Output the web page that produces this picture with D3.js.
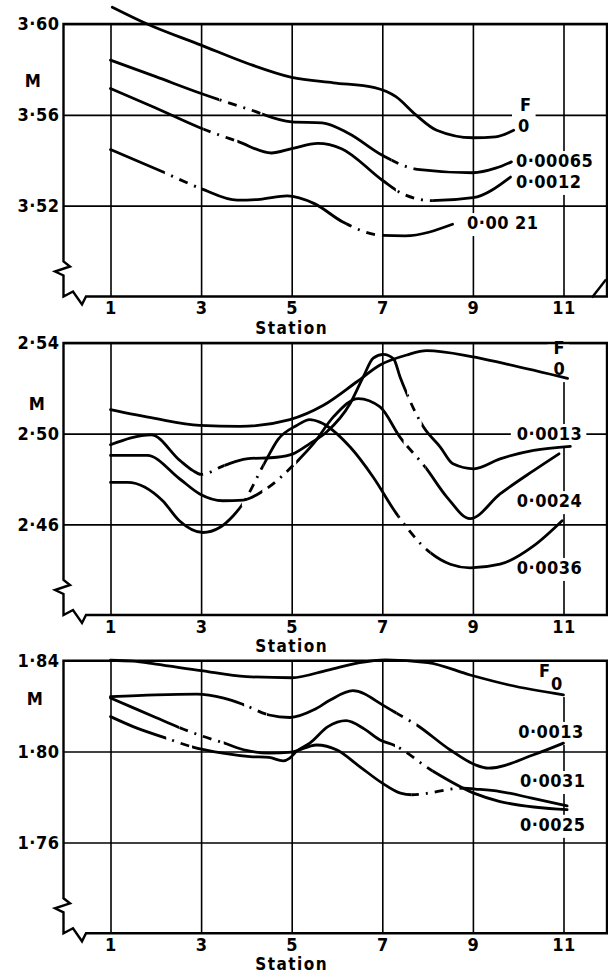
<!DOCTYPE html>
<html>
<head>
<meta charset="utf-8">
<style>
    body { margin: 0; background: #fff; }
    svg { display: block; }
    text {
        font-family: 'DejaVu Sans Condensed', 'DejaVu Sans', sans-serif;
        font-weight: bold;
        fill: #000;
    }
    .grid .domain { display: none; }
    .grid .tick line { stroke: #000; stroke-width: 1.6; }
    .grid .tick text { font-size: 18px; letter-spacing: 0.5px; }
    .frame { fill: none; stroke: #000; stroke-width: 2.4; stroke-linejoin: miter; }
    .curve { fill: none; stroke: #000; stroke-width: 2.8; stroke-linecap: round; }
    .dashed { stroke-dasharray: 9 7 2 7; stroke-linecap: butt; }
    .label { font-size: 18px; letter-spacing: 0.5px; }
    .axis-title { font-size: 17px; letter-spacing: 1.5px; }
</style>
</head>
<body>
<svg width="608" height="978"></svg>
<script src="https://cdn.jsdelivr.net/npm/d3@7"></script>
<script>
    // stations along the x axis
    let stationTicks = [1, 3, 5, 7, 9, 11];

    // ---- panel 1 ----
    let ticks1 = [3.52, 3.56, 3.60];
    let p1F0 = [[1.04, 3.6074], [1.81, 3.6000], [3, 3.5907], [4.03, 3.5826], [5, 3.5765], [5.92, 3.5741],
        [6.83, 3.5720], [7.3, 3.5680], [7.74, 3.5600], [8.2, 3.5532], [9, 3.5499], [9.5, 3.5503], [9.9, 3.5532]];
    let p1F00065 = [[1, 3.5841], [2, 3.5768], [3, 3.5694], [4, 3.5628], [5, 3.5569], [5.67, 3.5565], [6.26, 3.5518],
        [7, 3.5422], [7.77, 3.5360], [9, 3.5345], [9.5, 3.5365], [9.85, 3.5393]];
    let p1F0012 = [[1, 3.5716], [2, 3.5630], [3, 3.5541], [3.82, 3.5482], [4.55, 3.5432], [5, 3.5451], [5.58, 3.5474],
        [6.1, 3.5451], [7, 3.5312], [7.44, 3.5253], [8.1, 3.5222], [9, 3.5235], [9.83, 3.5326]];
    let p1F0021 = [[1, 3.5447], [2.15, 3.5349], [3, 3.5275], [3.8, 3.5224], [4.3, 3.5228], [4.9, 3.5243], [5.5, 3.5209],
        [6.13, 3.5128], [7, 3.5069], [7.5, 3.5067], [8.55, 3.5118]];
    let p1Dash = { F0: [], F00065: [[3.4, 4.35], [7.2, 7.7]], F0012: [[3.05, 3.8], [7.3, 8.1]], F0021: [[2.2, 3.0], [6.2, 7.0]] };

    // ---- panel 2 ----
    let ticks2 = [2.46, 2.50, 2.54];
    let p2F0 = [[1, 2.5106], [1.98, 2.5067], [2.97, 2.5037], [3.86, 2.5032], [4.96, 2.5062], [5.7, 2.5125], [6.44, 2.5229],
        [6.95, 2.5303], [7.54, 2.5347], [7.98, 2.5366], [8.97, 2.5340], [9.68, 2.5310], [11.09, 2.5244]];
    let p2F0013 = [[1, 2.4951], [1.9, 2.4995], [2.53, 2.4882], [2.82, 2.4837], [3.0, 2.4820], [3.52, 2.4860], [4.0, 2.4889],
        [4.67, 2.4896], [5.03, 2.4911], [5.4, 2.4956], [5.77, 2.5007], [6.29, 2.5133], [6.58, 2.5251], [6.8, 2.5333],
        [7.02, 2.5350], [7.25, 2.5330], [7.39, 2.5251], [7.54, 2.5177], [7.91, 2.5029], [8.28, 2.4941], [8.56, 2.4867],
        [9.02, 2.4845], [9.6, 2.4889], [10.34, 2.4926], [11.15, 2.4944]];
    let p2F0024 = [[1, 2.4904], [1.81, 2.4904], [2.53, 2.4800], [2.97, 2.4734], [3.48, 2.4704], [3.93, 2.4707], [4.38, 2.4749],
        [5.14, 2.4882], [5.48, 2.4956], [5.92, 2.5074], [6.47, 2.5155], [6.95, 2.5118], [7.39, 2.4985], [7.95, 2.4852],
        [8.43, 2.4719], [8.94, 2.4625], [9.6, 2.4734], [10.34, 2.4837], [10.9, 2.4911]];
    let p2F0036 = [[1, 2.4785], [1.38, 2.4785], [2.15, 2.4704], [2.52, 2.4616], [3.04, 2.4564], [3.41, 2.4586], [3.71, 2.4638],
        [3.89, 2.4682], [4.4, 2.4870], [4.7, 2.4975], [5.1, 2.5035], [5.4, 2.5062], [5.62, 2.5051], [6.29, 2.4941],
        [6.8, 2.4808], [7.32, 2.4645], [8.06, 2.4475], [8.5, 2.4424], [8.94, 2.4408], [9.6, 2.4424], [10.34, 2.4505], [10.97, 2.4616]];
    let p2Dash = { F0: [], F0013: [[3.0, 3.52], [7.55, 7.87]], F0024: [[4.35, 5.1], [7.47, 7.95]], F0036: [[3.9, 4.37], [7.35, 8.06]] };

    // ---- panel 3 ----
    let ticks3 = [1.76, 1.80, 1.84];
    let p3F0 = [[1, 1.8402], [1.5, 1.8398], [2, 1.8385], [3, 1.8356], [4, 1.8330], [5, 1.8325], [5.8, 1.8359], [6.5, 1.8392],
        [7.07, 1.8403], [8, 1.8392], [8.94, 1.8337], [9.8, 1.8293], [11, 1.8250]];
    let p3F0013 = [[1, 1.8242], [2, 1.8250], [2.9, 1.8253], [3.5, 1.8235], [3.92, 1.8208], [4.5, 1.8161], [4.96, 1.8150],
        [5.5, 1.8185], [5.85, 1.8227], [6.35, 1.8268], [7.05, 1.8200], [7.35, 1.8165], [7.76, 1.8117], [8.5, 1.8007],
        [9.05, 1.7942], [9.34, 1.7927], [10.34, 1.7986], [11, 1.8037]];
    let p3F0031 = [[1, 1.8236], [2, 1.8150], [2.5, 1.8107], [3, 1.8070], [3.5, 1.8038], [4, 1.8005], [4.5, 1.7993], [5, 1.7998],
        [5.55, 1.8029], [6, 1.8007], [6.5, 1.7934], [7, 1.7861], [7.4, 1.7817], [7.65, 1.7810], [8.8, 1.7839], [9.05, 1.7835],
        [9.6, 1.7824], [10.3, 1.7795], [11.08, 1.7761]];
    let p3F0025 = [[1, 1.8154], [1.5, 1.8110], [2.23, 1.8059], [2.78, 1.8022], [3.48, 1.7993], [4.08, 1.7978], [4.5, 1.7974],
        [4.81, 1.7959], [4.95, 1.7970], [5.1, 1.8000], [5.4, 1.8037], [5.8, 1.8110], [6.2, 1.8136], [6.6, 1.8100],
        [6.95, 1.8051], [7.25, 1.8029], [8.13, 1.7912], [9.02, 1.7817], [9.6, 1.7780], [11.08, 1.7744]];
    let p3Dash = { F0: [], F0013: [[3.95, 4.45], [7.32, 7.76]], F0031: [[2.52, 3.5], [7.65, 8.8]], F0025: [[2.23, 2.8], [7.28, 8.1]] };

    let svg = d3.select("svg");
    let frameLeft = 63.5;
    let frameRight = 607;

    let x = d3.scaleLinear()
        .domain([1, 11])
        .range([110.5, 563.5]);

    let fmt = d => d3.format(".2f")(d).replace(".", "\u00b7");

    // label rows: text, station, M, second line, its dx, its dy
    let panels = [
        {
            top: 24, bottom: 296.5, domain: [3.48, 3.60], ticks: ticks1, mY: 63, mX: 33, slash: true,
            series: [["F0", p1F0], ["F00065", p1F00065], ["F0012", p1F0012], ["F0021", p1F0021]], dash: p1Dash,
            labels: [["F", 10.04, 3.5617, "0", -2, 21], ["0\u00b700065", 9.95, 3.5370],
                ["0\u00b70012", 9.95, 3.5278], ["0\u00b700 21", 8.87, 3.5097]]
        },
        {
            top: 343, bottom: 615, domain: [2.42, 2.54], ticks: ticks2, mY: 67, mX: 37,
            series: [["F0", p2F0], ["F0013", p2F0013], ["F0024", p2F0024], ["F0036", p2F0036]], dash: p2Dash,
            labels: [["F", 10.78, 2.5351, "0", 0, 21], ["0\u00b70013", 9.97, 2.4972],
                ["0\u00b70024", 9.97, 2.4676], ["0\u00b70036", 9.97, 2.4381]]
        },
        {
            top: 660.7, bottom: 933.3, domain: [1.72, 1.84], ticks: ticks3, mY: 44, mX: 35,
            series: [["F0", p3F0], ["F0013", p3F0013], ["F0031", p3F0031], ["F0025", p3F0025]], dash: p3Dash,
            labels: [["F", 10.46, 1.8328, "0", 12, 13], ["0\u00b70013", 10.0, 1.8060],
                ["0\u00b70031", 10.04, 1.7844], ["0\u00b70025", 10.04, 1.7651]]
        }
    ];

    panels.forEach(function (p, pi) {
        let y = d3.scaleLinear()
            .domain(p.domain)
            .range([p.bottom, p.top]);

        let g = svg.append("g").attr("class", "panel");
        let defs = g.append("defs");

        // vertical grid + station numbers
        g.append("g")
            .attr("class", "grid")
            .attr("transform", "translate(0," + p.bottom + ")")
            .call(d3.axisBottom(x)
                .tickValues(stationTicks)
                .tickSize(-(p.bottom - p.top))
                .tickPadding(5)
                .tickFormat(d3.format("d")));

        // horizontal grid + M values
        g.append("g")
            .attr("class", "grid")
            .attr("transform", "translate(" + frameLeft + ",0)")
            .call(d3.axisLeft(y)
                .tickValues(p.ticks)
                .tickSize(-(frameRight - frameLeft))
                .tickPadding(4)
                .tickFormat(fmt));

        let knock = g.append("g");
        let curves = g.append("g");
        let labels = g.append("g");

        // frame with the break marks
        let b = p.bottom;
        let L = frameLeft;
        g.append("path")
            .attr("class", "frame")
            .attr("d", "M" + L + "," + p.top + "H" + frameRight + "V" + b
                + "H86L82," + (b + 8) + "L73," + (b - 5) + "L" + L + "," + b
                + "V" + (b - 21) + "L55," + (b - 25) + "L70," + (b - 30) + "L" + L + "," + (b - 35) + "Z");
        if (p.slash) {
            g.append("path")
                .attr("class", "frame")
                .attr("d", "M592," + (b + 1) + "L606," + (b - 17));
        }

        let line = d3.line()
            .x(d => x(d[0]))
            .y(d => y(d[1]))
            .curve(d3.curveMonotoneX);

        p.series.forEach(function (s) {
            let key = s[0], pts = s[1];
            let dashes = p.dash[key];
            let id = "p" + pi + key;

            // solid parts = everything not dashed
            let solid = [];
            let start = pts[0][0] - 1;
            dashes.forEach(r => { solid.push([start, r[0]]); start = r[1]; });
            solid.push([start, pts[pts.length - 1][0] + 1]);

            let addClip = function (cid, ranges) {
                defs.append("clipPath").attr("id", cid)
                    .selectAll("rect")
                    .data(ranges)
                    .join("rect")
                    .attr("x", r => x(r[0]))
                    .attr("width", r => x(r[1]) - x(r[0]))
                    .attr("y", p.top - 40)
                    .attr("height", p.bottom - p.top + 60);
            };
            addClip(id + "s", solid);
            curves.append("path")
                .datum(pts)
                .attr("class", "curve")
                .attr("clip-path", "url(#" + id + "s)")
                .attr("d", line);

            if (dashes.length) {
                addClip(id + "d", dashes);
                curves.append("path")
                    .datum(pts)
                    .attr("class", "curve dashed")
                    .attr("clip-path", "url(#" + id + "d)")
                    .attr("d", line);
            }
        });

        // curve labels with white knock-outs behind them
        p.labels.forEach(function (l) {
            let t = labels.append("text")
                .attr("class", "label")
                .attr("x", x(l[1]))
                .attr("y", y(l[2]))
                .text(l[0]);
            if (l[3]) {
                t.append("tspan")
                    .attr("x", x(l[1]) + l[4])
                    .attr("dy", l[5])
                    .text(l[3]);
            }
            let bb = t.node().getBBox();
            knock.append("rect")
                .attr("x", bb.x - 6)
                .attr("y", bb.y + 1)
                .attr("width", bb.width + 10)
                .attr("height", bb.height + 2)
                .attr("fill", "#fff");
        });

        labels.append("text")
            .attr("class", "label")
            .attr("x", p.mX)
            .attr("y", p.top + p.mY)
            .attr("text-anchor", "middle")
            .text("M");

        labels.append("text")
            .attr("class", "axis-title")
            .attr("x", x(5))
            .attr("y", p.bottom + 37)
            .attr("text-anchor", "middle")
            .text("Station");
    });
</script>
</body>
</html>
